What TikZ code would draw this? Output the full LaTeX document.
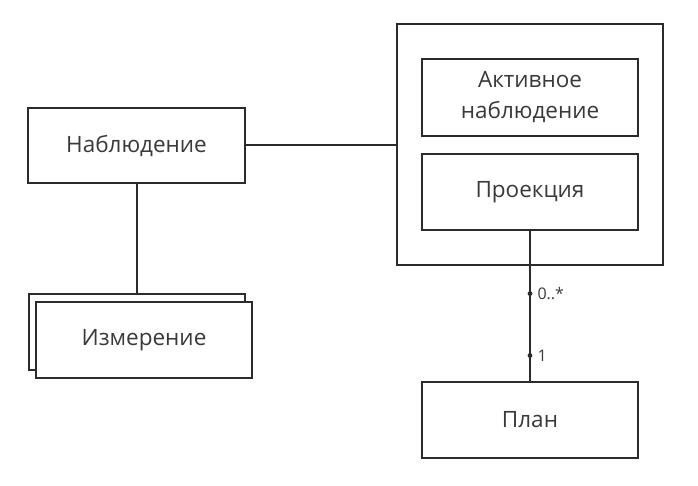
\documentclass[tikz,border=0pt]{standalone}
\usepackage{fontspec}
\setmainfont{Open Sans}
\usepackage{xcolor}

\definecolor{ink}{HTML}{2B2B2B}
\definecolor{txt}{HTML}{3A3A3A}

\begin{document}
\begin{tikzpicture}[x=1pt, y=-1pt,
    box/.style={draw=ink, line width=2pt, fill=white, minimum width=216pt, minimum height=76pt, align=center, text=txt, font=\fontsize{22.5}{31}\selectfont},
    link/.style={draw=ink, line width=2pt},
    mult/.style={text=txt, font=\fontsize{16}{18}\selectfont, anchor=west}]
    \useasboundingbox (0,0) rectangle (698,486);

    % container for the two states
    \node[draw=ink, line width=2pt, minimum width=266pt, minimum height=240pt] (frame) at (530,144.5) {};

    % left side
    \node[box, minimum width=217pt, minimum height=75pt] (obs) at (136.5,145.5) {Наблюдение};
    \node[box] (measback) at (136.5,331.5) {};
    \node[box] (meas) at (144,340) {Измерение};

    % inside the frame
    \node[box, minimum height=77pt] (active) at (530,97.5) {Активное\\наблюдение};
    \node[box] (proj) at (530,192) {Проекция};

    % plan
    \node[box] (plan) at (530,420) {План};

    % connections
    \draw[link] (obs.east) -- (frame.west |- obs.east);
    \draw[link] (obs.south) -- (measback.north);
    \draw[link] (proj.south) -- (plan.north)
        coordinate[pos=0.417] (m1) coordinate[pos=0.83] (m2);

    % multiplicities
    \fill[ink] (m1) circle (2.4pt);
    \fill[ink] (m2) circle (2.4pt);
    \node[mult] (many) at ([xshift=4pt]m1) {0..*};
    \node[mult] (one) at ([xshift=4pt]m2) {1};
\end{tikzpicture}
\end{document}
